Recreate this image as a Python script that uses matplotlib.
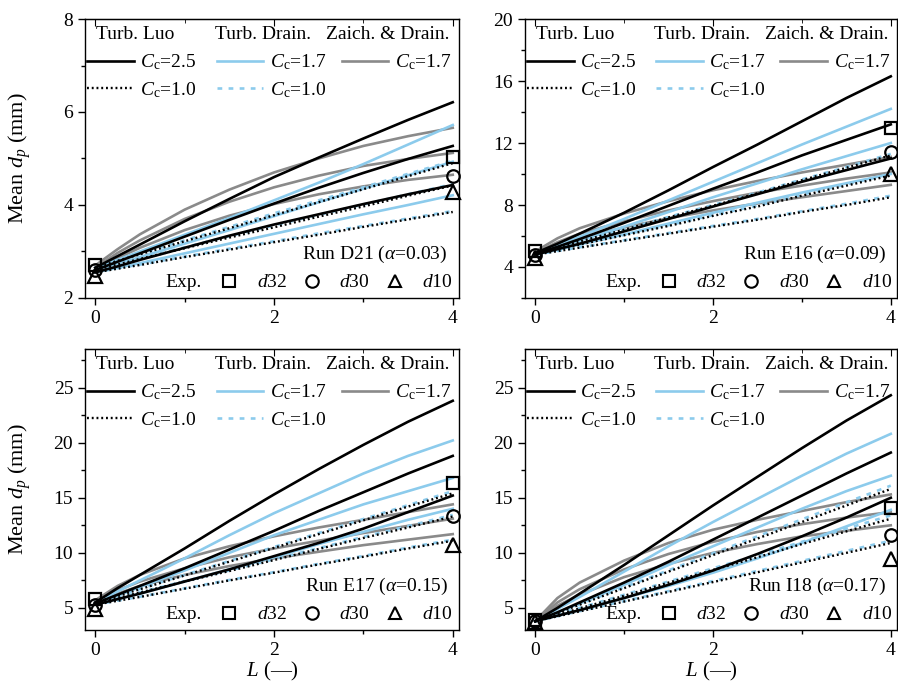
import matplotlib
matplotlib.use("Agg")
import matplotlib.pyplot as plt
from matplotlib.lines import Line2D
from matplotlib.ticker import MultipleLocator
import numpy as np

plt.rcParams['font.family'] = ['Liberation Serif', 'DejaVu Serif']
plt.rcParams['mathtext.fontset'] = 'custom'
plt.rcParams['mathtext.rm'] = 'Liberation Serif'
plt.rcParams['mathtext.it'] = 'Liberation Serif:italic'
plt.rcParams['font.size'] = 14

### DATA ###
L = [0, 0.25, 0.5, 1, 1.5, 2, 2.5, 3, 3.5, 4]
L_exp = [0, 4]

# run D21
d21_luo25 = [[2.65, 2.9, 3.15, 3.65, 4.13, 4.6, 5.02, 5.43, 5.83, 6.21],
             [2.6, 2.78, 2.96, 3.32, 3.68, 4.03, 4.37, 4.69, 4.99, 5.27],
             [2.55, 2.68, 2.82, 3.08, 3.34, 3.58, 3.8, 4.02, 4.23, 4.43]]
d21_luo10 = [[2.65, 2.8, 2.94, 3.22, 3.5, 3.78, 4.06, 4.34, 4.62, 4.9],
             [2.6, 2.72, 2.84, 3.07, 3.3, 3.52, 3.75, 3.97, 4.2, 4.42],
             [2.55, 2.63, 2.71, 2.88, 3.04, 3.2, 3.36, 3.53, 3.69, 3.85]]
d21_dr17 = [[2.65, 2.82, 3.0, 3.36, 3.72, 4.1, 4.48, 4.88, 5.3, 5.72],
            [2.6, 2.74, 2.88, 3.17, 3.46, 3.76, 4.06, 4.35, 4.64, 4.93],
            [2.55, 2.65, 2.75, 2.96, 3.17, 3.38, 3.59, 3.8, 4.0, 4.21]]
d21_dr10 = [[2.65, 2.8, 2.95, 3.24, 3.53, 3.82, 4.1, 4.38, 4.67, 4.95],
            [2.6, 2.72, 2.85, 3.09, 3.33, 3.56, 3.79, 4.01, 4.23, 4.45],
            [2.55, 2.64, 2.72, 2.89, 3.06, 3.22, 3.39, 3.55, 3.71, 3.87]]
d21_zd17 = [[2.7, 3.05, 3.37, 3.9, 4.33, 4.7, 5.0, 5.27, 5.48, 5.66],
            [2.65, 2.97, 3.24, 3.7, 4.07, 4.38, 4.63, 4.84, 4.99, 5.12],
            [2.6, 2.86, 3.08, 3.46, 3.77, 4.02, 4.23, 4.4, 4.54, 4.65]]
d21_exp = [[2.7, 5.03], [2.6, 4.62], [2.48, 4.28]]

# run E16
e16_luo25 = [[4.9, 5.5, 6.15, 7.5, 8.95, 10.45, 11.9, 13.4, 14.9, 16.3],
             [4.85, 5.3, 5.8, 6.85, 7.95, 9.05, 10.1, 11.2, 12.2, 13.2],
             [4.8, 5.15, 5.5, 6.3, 7.1, 7.9, 8.7, 9.5, 10.25, 11.0]]
e16_luo10 = [[4.9, 5.27, 5.65, 6.4, 7.2, 7.95, 8.75, 9.6, 10.4, 11.2],
             [4.85, 5.15, 5.45, 6.05, 6.65, 7.3, 7.9, 8.6, 9.25, 9.9],
             [4.8, 5.02, 5.25, 5.7, 6.15, 6.6, 7.05, 7.55, 8.0, 8.5]]
e16_dr17 = [[4.9, 5.4, 5.95, 7.1, 8.3, 9.5, 10.7, 11.9, 13.05, 14.2],
            [4.85, 5.25, 5.7, 6.6, 7.55, 8.5, 9.4, 10.3, 11.15, 12.0],
            [4.8, 5.1, 5.45, 6.1, 6.8, 7.5, 8.15, 8.8, 9.4, 10.0]]
e16_dr10 = [[4.9, 5.28, 5.67, 6.43, 7.23, 8.0, 8.8, 9.65, 10.45, 11.3],
            [4.85, 5.16, 5.47, 6.08, 6.7, 7.35, 7.97, 8.67, 9.33, 10.0],
            [4.8, 5.03, 5.27, 5.73, 6.19, 6.65, 7.1, 7.6, 8.08, 8.6]]
e16_zd17 = [[5.0, 5.85, 6.5, 7.45, 8.25, 8.95, 9.55, 10.1, 10.6, 11.1],
            [4.9, 5.6, 6.15, 6.95, 7.65, 8.25, 8.8, 9.25, 9.7, 10.1],
            [4.8, 5.4, 5.85, 6.55, 7.15, 7.65, 8.1, 8.5, 8.9, 9.3]]
e16_exp = [[5.0, 12.95], [4.8, 11.4], [4.6, 10.0]]

# run E17
e17_luo25 = [[5.5, 6.8, 8.0, 10.4, 12.9, 15.3, 17.6, 19.8, 21.9, 23.8],
             [5.4, 6.2, 7.0, 8.6, 10.3, 12.0, 13.8, 15.5, 17.2, 18.8],
             [5.3, 5.8, 6.3, 7.4, 8.5, 9.7, 10.9, 12.2, 13.7, 15.2]]
e17_luo10 = [[5.5, 6.1, 6.7, 7.95, 9.2, 10.45, 11.7, 12.95, 14.2, 15.4],
             [5.4, 5.9, 6.4, 7.4, 8.35, 9.35, 10.35, 11.35, 12.3, 13.3],
             [5.3, 5.65, 6.0, 6.75, 7.5, 8.2, 8.95, 9.65, 10.4, 11.1]]
e17_dr17 = [[5.5, 6.5, 7.5, 9.5, 11.6, 13.6, 15.4, 17.2, 18.8, 20.2],
            [5.4, 6.1, 6.9, 8.4, 10.0, 11.6, 13.0, 14.4, 15.6, 16.8],
            [5.3, 5.8, 6.3, 7.4, 8.5, 9.6, 10.8, 11.9, 13.0, 14.0]]
e17_dr10 = [[5.5, 6.12, 6.73, 8.0, 9.27, 10.53, 11.8, 13.07, 14.33, 15.6],
            [5.4, 5.91, 6.42, 7.43, 8.4, 9.42, 10.43, 11.45, 12.43, 13.45],
            [5.3, 5.66, 6.02, 6.78, 7.54, 8.25, 9.0, 9.72, 10.48, 11.2]]
e17_zd17 = [[5.7, 7.0, 8.0, 9.5, 10.6, 11.5, 12.3, 13.0, 13.7, 14.4],
            [5.6, 6.6, 7.4, 8.6, 9.6, 10.4, 11.1, 11.8, 12.45, 13.1],
            [5.4, 6.3, 7.0, 8.0, 8.8, 9.5, 10.1, 10.7, 11.2, 11.7]]
e17_exp = [[5.8, 16.3], [5.3, 13.3], [4.9, 10.7]]

# run I18
i18_luo25 = [[3.8, 5.0, 6.3, 8.9, 11.6, 14.3, 16.9, 19.5, 22.0, 24.3],
             [3.8, 4.6, 5.5, 7.3, 9.2, 11.2, 13.2, 15.2, 17.2, 19.1],
             [3.8, 4.3, 4.8, 5.9, 7.1, 8.4, 9.9, 11.5, 13.2, 15.0]]
i18_luo10 = [[3.8, 4.55, 5.3, 6.8, 8.3, 9.8, 11.3, 12.8, 14.3, 15.8],
             [3.8, 4.38, 4.96, 6.1, 7.3, 8.45, 9.6, 10.8, 11.95, 13.1],
             [3.8, 4.24, 4.69, 5.58, 6.46, 7.35, 8.24, 9.13, 10.0, 10.9]]
i18_dr17 = [[3.8, 4.9, 6.0, 8.3, 10.6, 12.8, 14.9, 17.0, 19.0, 20.8],
            [3.8, 4.6, 5.4, 7.1, 8.9, 10.6, 12.3, 14.0, 15.6, 17.0],
            [3.8, 4.3, 4.8, 5.9, 7.0, 8.2, 9.5, 10.9, 12.4, 13.9]]
i18_dr10 = [[3.8, 4.57, 5.34, 6.88, 8.42, 9.96, 11.5, 13.04, 14.58, 16.1],
            [3.8, 4.4, 5.0, 6.2, 7.4, 8.6, 9.8, 11.0, 12.2, 13.4],
            [3.8, 4.25, 4.71, 5.62, 6.53, 7.45, 8.36, 9.27, 10.18, 11.1]]
i18_zd17 = [[3.8, 5.9, 7.3, 9.3, 10.9, 12.1, 13.0, 13.8, 14.6, 15.3],
            [3.8, 5.5, 6.7, 8.5, 9.9, 11.0, 11.9, 12.6, 13.2, 13.7],
            [3.8, 5.2, 6.2, 7.8, 9.0, 10.0, 10.8, 11.5, 12.0, 12.5]]
i18_exp = [[3.9, 14.1], [3.8, 11.6], [3.7, 9.4]]

run_labels = ["Run D21 ($\\alpha$=0.03)", "Run E16 ($\\alpha$=0.09)",
              "Run E17 ($\\alpha$=0.15)", "Run I18 ($\\alpha$=0.17)"]
headers = ["Turb. Luo", "Turb. Drain.", "Zaich. & Drain."]
size_labels = ["$d$32", "$d$30", "$d$10"]

### STYLES ###
c_black = 'k'
c_blue = '#8ccbec'
c_gray = '#8a8a8a'
lw = 1.9
dot_ls = (0, (0.8, 1.2))
dash_ls = (0, (1.8, 2.4))

runs = [
    (d21_luo25, d21_luo10, d21_dr17, d21_dr10, d21_zd17, d21_exp),
    (e16_luo25, e16_luo10, e16_dr17, e16_dr10, e16_zd17, e16_exp),
    (e17_luo25, e17_luo10, e17_dr17, e17_dr10, e17_zd17, e17_exp),
    (i18_luo25, i18_luo10, i18_dr17, i18_dr10, i18_zd17, i18_exp),
]
ylims = [(2, 8), (2, 20), (3, 28.5), (3, 28.5)]
ymaj = [2, 4, 5, 5]
ymin = [1, 2, 2.5, 2.5]

W, H = 898, 689
rects = [
    (85 / W, 1 - 298 / H, 374 / W, 279 / H),
    (525 / W, 1 - 298 / H, 372 / W, 279 / H),
    (85 / W, 1 - 630 / H, 374 / W, 281 / H),
    (525 / W, 1 - 630 / H, 372 / W, 281 / H),
]

fig = plt.figure(figsize=(W / 100, H / 100), dpi=100)

for k in range(4):
    luo25, luo10, dr17, dr10, zd17, exp = runs[k]
    ax = fig.add_axes(rects[k])

    for i in range(3):
        ax.plot(L, zd17[i], color=c_gray, lw=lw, zorder=2)
        ax.plot(L, dr17[i], color=c_blue, lw=lw, zorder=3)
        ax.plot(L, dr10[i], color=c_blue, lw=lw, ls=dash_ls, zorder=3)
        ax.plot(L, luo25[i], color=c_black, lw=lw, zorder=4)
        ax.plot(L, luo10[i], color=c_black, lw=lw * 0.9, ls=dot_ls, zorder=4)

    mk = ['s', 'o', '^']
    for i in range(3):
        ax.plot(L_exp, exp[i], ls='none', marker=mk[i], ms=9 if mk[i] != '^' else 10,
                mfc='none', mec='k', mew=1.6, clip_on=False, zorder=6)

    ax.set_xlim(-0.115, 4.07)
    ax.set_ylim(*ylims[k])
    ax.xaxis.set_major_locator(MultipleLocator(2))
    ax.xaxis.set_minor_locator(MultipleLocator(1))
    ax.yaxis.set_major_locator(MultipleLocator(ymaj[k]))
    ax.yaxis.set_minor_locator(MultipleLocator(ymin[k]))
    ax.tick_params(which='both', direction='out', width=1.0, labelsize=14)
    ax.tick_params(which='major', length=5)
    ax.tick_params(which='minor', length=3)
    for sp in ax.spines.values():
        sp.set_linewidth(1.0)
    top = ax.secondary_xaxis('top')
    top.xaxis.set_major_locator(MultipleLocator(2))
    top.xaxis.set_minor_locator(MultipleLocator(1))
    top.tick_params(which='both', direction='in', labeltop=False)
    top.tick_params(which='major', length=5)
    top.tick_params(which='minor', length=3)

    if k % 2 == 0:
        ax.set_ylabel("Mean $d_p$ (mm)", fontsize=16)
        ax.yaxis.set_label_coords(-0.14, 0.5)
    if k >= 2:
        ax.set_xlabel("$L$ (—)", fontsize=15, labelpad=1)

    # model legend: headers as text, one small legend per column
    hx = [0.03, 0.348, 0.644]
    for j in range(3):
        ax.text(hx[j], 0.945, headers[j], transform=ax.transAxes,
                ha='left', va='center', fontsize=14)
    col_handles = [
        [Line2D([], [], color=c_black, lw=lw),
         Line2D([], [], color=c_black, lw=lw * 0.9, ls=dot_ls)],
        [Line2D([], [], color=c_blue, lw=lw),
         Line2D([], [], color=c_blue, lw=lw, ls=dash_ls)],
        [Line2D([], [], color=c_gray, lw=lw)],
    ]
    col_labels = [["$C_\\mathrm{c}$=2.5", "$C_\\mathrm{c}$=1.0"],
                  ["$C_\\mathrm{c}$=1.7", "$C_\\mathrm{c}$=1.0"],
                  ["$C_\\mathrm{c}$=1.7"]]
    col_x = [0.005, 0.352, 0.686]
    for j in range(3):
        leg = ax.legend(col_handles[j], col_labels[j], loc='upper left',
                        bbox_to_anchor=(col_x[j], 0.88), frameon=False, fontsize=14,
                        handlelength=2.4, handletextpad=0.35,
                        labelspacing=0.4, borderaxespad=0.0, borderpad=0.0)
        ax.add_artist(leg)

    # run label and experiment legend
    ax.text(0.97, 0.155, run_labels[k], transform=ax.transAxes,
            ha='right', va='center', fontsize=14)
    ax.text(0.215, 0.055, "Exp.", transform=ax.transAxes,
            ha='left', va='center', fontsize=14)
    mh = [Line2D([], [], ls='none', marker=m, ms=9, mfc='none', mec='k', mew=1.5)
          for m in mk]
    ax.legend(mh, size_labels, ncol=3, loc='center left',
              bbox_to_anchor=(0.36, 0.055), frameon=False, fontsize=14,
              handlelength=1.0, handletextpad=0.9, columnspacing=0.8,
              borderaxespad=0.0, borderpad=0.0)

fig.savefig("out.png", dpi=100)
